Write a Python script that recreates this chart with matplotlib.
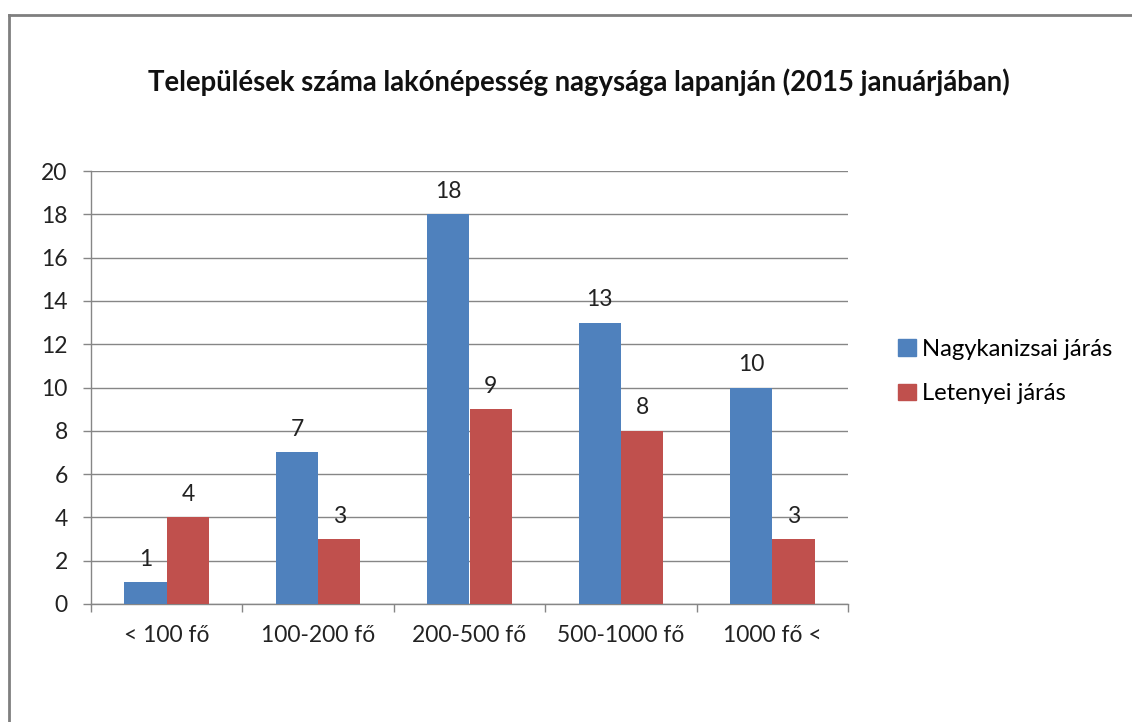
import matplotlib
matplotlib.use("Agg")
import matplotlib.pyplot as plt
from matplotlib.lines import Line2D
import numpy as np

categories = ["< 100 fő", "100-200 fő", "200-500 fő", "500-1000 fő", "1000 fő <"]
series_names = ["Nagykanizsai járás", "Letenyei járás"]
nagykanizsai = [1, 7, 18, 13, 10]
letenyei = [4, 3, 9, 8, 3]
y_ticks = [0, 2, 4, 6, 8, 10, 12, 14, 16, 18, 20]
title = "Települések száma lakónépesség nagysága lapanján (2015 januárjában)"

colors = ["#4F81BD", "#C0504D"]
grid_col = "#868686"
txt_col = "#222222"
plt.rcParams['font.family'] = ['Lato', 'DejaVu Sans']

fig = plt.figure(figsize=(11.32, 7.22), dpi=100)
ax = fig.add_axes([91/1132, 1-604/722, (848-91)/1132, (604-171)/722])

x = np.arange(len(categories))
w = 0.28
for i, (vals, name) in enumerate([(nagykanizsai, series_names[0]), (letenyei, series_names[1])]):
    pos = x + (i - 0.5) * w
    ax.bar(pos, vals, width=w, color=colors[i], label=name, zorder=3)
    for p, v in zip(pos, vals):
        ax.annotate(str(v), (p, v), xytext=(0, 9), textcoords='offset points',
                    ha='center', va='bottom', fontsize=16.5, color=txt_col)

ax.set_xlim(-0.5, len(categories) - 0.5)
ax.set_ylim(0, 20)
ax.set_yticks(y_ticks)
ax.set_yticklabels([str(t) for t in y_ticks], fontsize=16.5, color=txt_col)
ax.set_xticks(x)
ax.set_xticklabels(categories, fontsize=16.5, color=txt_col)
ax.tick_params(axis='x', length=0, pad=15)
ax.tick_params(axis='y', length=5.8, width=1, color=grid_col, pad=11)
ax.set_xticks(np.arange(-0.5, len(categories), 1.0), minor=True)
ax.tick_params(axis='x', which='minor', length=5.8, width=1, color=grid_col)
ax.yaxis.grid(True, color=grid_col, linewidth=1, zorder=0)
ax.set_axisbelow(True)
for s in ['top', 'right']:
    ax.spines[s].set_visible(False)
for s in ['left', 'bottom']:
    ax.spines[s].set_color(grid_col)
    ax.spines[s].set_linewidth(1)

fig.text(579/1132, 1-82/722, title, ha='center', va='center', fontsize=19.8,
         fontweight='bold', color='#111111')

handles = [plt.Rectangle((0, 0), 1, 1, color=c) for c in colors]
fig.legend(handles, series_names, loc='center left',
           bbox_to_anchor=(898/1132, 1-371.5/722),
           frameon=False, fontsize=17.2, handlelength=0.75, handleheight=0.7,
           handletextpad=0.25, labelspacing=1.0, borderpad=0, borderaxespad=0)

# outer frame
fig.add_artist(Line2D([9/1132, 1.0], [1-15/722, 1-15/722], transform=fig.transFigure,
                      color='#7f7f7f', linewidth=2))
fig.add_artist(Line2D([9/1132, 9/1132], [0, 1-15/722], transform=fig.transFigure,
                      color='#7f7f7f', linewidth=2))

fig.savefig("out.png", dpi=100, facecolor='white')
